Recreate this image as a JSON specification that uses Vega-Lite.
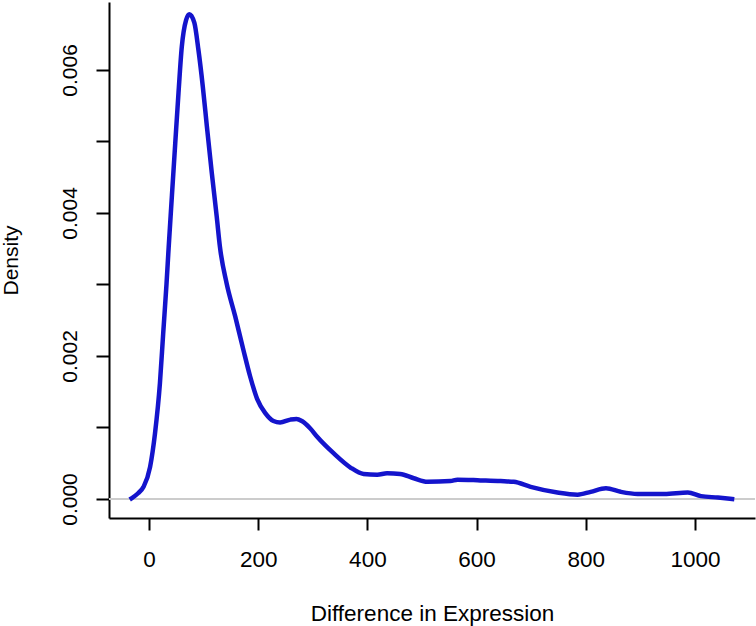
{
  "$schema": "https://vega.github.io/schema/vega-lite/v6.json",
  "width": 646,
  "height": 516,
  "autosize": {"type": "none"},
  "padding": {"left": 109, "top": 2, "right": 1, "bottom": 108},
  "background": "white",
  "config": {
    "view": {"stroke": null},
    "font": "Liberation Sans",
    "axis": {
      "grid": false,
      "domainColor": "black",
      "domainWidth": 2,
      "tickColor": "black",
      "tickWidth": 2,
      "labelColor": "black",
      "labelFont": "Liberation Sans",
      "titleFont": "Liberation Sans",
      "titleFontWeight": "normal",
      "titleColor": "black"
    }
  },
  "data": {
    "values": [
      {"x": -32, "density": 0.00001},
      {"x": -20, "density": 0.00008},
      {"x": -10, "density": 0.00017},
      {"x": 2, "density": 0.00045},
      {"x": 11, "density": 0.00092},
      {"x": 20, "density": 0.00162},
      {"x": 26, "density": 0.00232},
      {"x": 32, "density": 0.00300},
      {"x": 36, "density": 0.00352},
      {"x": 42, "density": 0.00425},
      {"x": 48, "density": 0.00497},
      {"x": 54, "density": 0.00568},
      {"x": 60, "density": 0.00632},
      {"x": 68, "density": 0.00670},
      {"x": 74, "density": 0.00678},
      {"x": 83, "density": 0.00666},
      {"x": 90.5, "density": 0.00628},
      {"x": 98.5, "density": 0.00577},
      {"x": 106, "density": 0.00521},
      {"x": 115, "density": 0.00456},
      {"x": 124, "density": 0.00395},
      {"x": 130, "density": 0.00352},
      {"x": 142, "density": 0.00302},
      {"x": 158, "density": 0.00255},
      {"x": 173, "density": 0.00208},
      {"x": 185, "density": 0.00172},
      {"x": 198, "density": 0.00140},
      {"x": 213, "density": 0.00120},
      {"x": 228, "density": 0.00109},
      {"x": 240, "density": 0.00107},
      {"x": 259, "density": 0.00111},
      {"x": 270, "density": 0.00112},
      {"x": 280, "density": 0.00109},
      {"x": 295, "density": 0.00099},
      {"x": 308, "density": 0.00087},
      {"x": 338, "density": 0.00064},
      {"x": 369, "density": 0.00044},
      {"x": 393, "density": 0.00035},
      {"x": 418, "density": 0.00034},
      {"x": 436, "density": 0.00036},
      {"x": 460, "density": 0.00035},
      {"x": 485, "density": 0.00029},
      {"x": 510, "density": 0.00024},
      {"x": 552, "density": 0.00025},
      {"x": 565, "density": 0.00027},
      {"x": 607, "density": 0.00026},
      {"x": 644, "density": 0.00025},
      {"x": 668, "density": 0.00024},
      {"x": 699, "density": 0.00017},
      {"x": 748, "density": 0.00009},
      {"x": 785, "density": 0.00006},
      {"x": 809, "density": 0.00010},
      {"x": 837, "density": 0.00015},
      {"x": 864, "density": 0.00010},
      {"x": 895, "density": 0.00007},
      {"x": 944, "density": 0.00007},
      {"x": 987, "density": 0.00009},
      {"x": 1011, "density": 0.00004},
      {"x": 1042, "density": 0.00002},
      {"x": 1068, "density": 0.0}
    ]
  },
  "layer": [
    {
      "mark": {"type": "rule", "color": "#cccccc", "strokeWidth": 2},
      "encoding": {"y": {"datum": 0, "type": "quantitative", "scale": {"domain": [-0.000266, 0.00695], "nice": false, "zero": false}}}
    },
    {
      "mark": {"type": "line", "color": "#1414cc", "strokeWidth": 4.5, "interpolate": "monotone", "strokeJoin": "round", "strokeCap": "square"},
      "encoding": {
        "x": {
          "field": "x",
          "type": "quantitative",
          "scale": {"domain": [-73.3, 1110], "nice": false, "zero": false},
          "axis": {
            "title": "Difference in Expression",
            "values": [0, 200, 400, 600, 800, 1000],
            "format": "d",
            "tickSize": 12,
            "labelFontSize": 22.5,
            "titleFontSize": 22.5,
            "labelPadding": 18,
            "titlePadding": 32
          }
        },
        "y": {
          "field": "density",
          "type": "quantitative",
          "scale": {"domain": [-0.000266, 0.00695], "nice": false, "zero": false},
          "axis": {
            "title": "Density",
            "values": [0, 0.001, 0.002, 0.003, 0.004, 0.005, 0.006],
            "format": ".3f",
            "labelExpr": "(round(datum.value * 1000) % 2 == 0) ? datum.label : ''",
            "labelAngle": -90,
            "labelAlign": "center",
            "labelBaseline": "bottom",
            "labelFontSize": 21,
            "titleFontSize": 21,
            "tickSize": 13,
            "labelPadding": 16,
            "titlePadding": 38
          }
        }
      }
    }
  ]
}
